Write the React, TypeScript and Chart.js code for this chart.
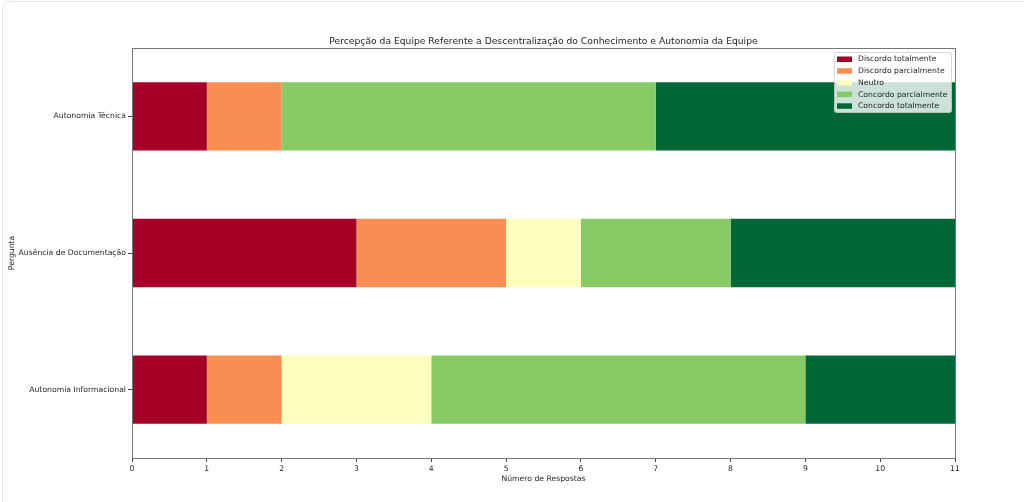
import React, { useEffect, useRef } from 'react';
import { Chart, registerables } from 'chart.js';

Chart.register(...registerables);

const categories = ['Autonomia Técnica', 'Ausência de Documentação', 'Autonomia Informacional'];
const seriesNames = [
  'Discordo totalmente',
  'Discordo parcialmente',
  'Neutro',
  'Concordo parcialmente',
  'Concordo totalmente',
];
const discordoTotalmente = [1, 3, 1];
const discordoParcialmente = [1, 2, 1];
const neutro = [0, 1, 2];
const concordoParcialmente = [5, 2, 5];
const concordoTotalmente = [4, 3, 2];
const xMax = 11;
const colors = ['#a50026', '#f98e52', '#feffbe', '#86cb66', '#006837'];

const chartTitle = 'Percepção da Equipe Referente a Descentralização do Conhecimento e Autonomia da Equipe';
const xTitle = 'Número de Respostas';
const yTitle = 'Pergunta';

const FONT = '"DejaVu Sans", sans-serif';
const SMALL = 7.7;

const decorPlugin = {
  id: 'decor',
  afterDraw(chart: Chart) {
    const { ctx, chartArea } = chart;
    const { left, right, top, bottom } = chartArea;
    ctx.save();

    // frame (spines)
    ctx.strokeStyle = '#777';
    ctx.lineWidth = 1;
    ctx.strokeRect(Math.round(left) + 0.5, Math.round(top) + 0.5, Math.round(right - left), Math.round(bottom - top));

    // title
    ctx.fillStyle = '#262626';
    ctx.font = `9.2px ${FONT}`;
    ctx.textAlign = 'center';
    ctx.textBaseline = 'alphabetic';
    ctx.fillText(chartTitle, (left + right) / 2, top - 4);

    // axis titles
    ctx.font = `${SMALL}px ${FONT}`;
    ctx.textBaseline = 'middle';
    ctx.fillText(xTitle, (left + right) / 2, 479);
    ctx.save();
    ctx.translate(12, (top + bottom) / 2);
    ctx.rotate(-Math.PI / 2);
    ctx.fillText(yTitle, 0, 0);
    ctx.restore();

    // legend inside the plot, upper right
    const bx = right - 121;
    const by = top + 4;
    const bw = 117;
    const bh = 60;
    ctx.beginPath();
    ctx.roundRect(bx + 0.5, by + 0.5, bw, bh, 2);
    ctx.fillStyle = 'rgba(255,255,255,0.8)';
    ctx.fill();
    ctx.strokeStyle = 'rgba(204,204,204,0.8)';
    ctx.stroke();
    ctx.font = `${SMALL}px ${FONT}`;
    ctx.textAlign = 'left';
    ctx.textBaseline = 'middle';
    seriesNames.forEach((name, i) => {
      const cy = by + 7.5 + i * 11.7;
      ctx.fillStyle = colors[i];
      ctx.fillRect(bx + 3, cy - 3, 15, 5.5);
      ctx.fillStyle = '#262626';
      ctx.fillText(name, bx + 24, cy);
    });

    ctx.restore();
  },
};

const App: React.FC = () => {
  const chartRef = useRef<HTMLCanvasElement>(null);
  const chartInstance = useRef<Chart | null>(null);

  useEffect(() => {
    document.body.style.margin = '0';
    if (chartRef.current) {
      const ctx = chartRef.current.getContext('2d');
      if (ctx) {
        if (chartInstance.current) {
          chartInstance.current.destroy();
        }
        const seriesValues = [
          discordoTotalmente,
          discordoParcialmente,
          neutro,
          concordoParcialmente,
          concordoTotalmente,
        ];
        chartInstance.current = new Chart(ctx, {
          type: 'bar',
          data: {
            labels: categories,
            datasets: seriesNames.map((name, i) => ({
              label: name,
              data: seriesValues[i],
              backgroundColor: colors[i],
              borderWidth: 0,
              categoryPercentage: 1,
              barPercentage: 0.5,
            })),
          },
          options: {
            indexAxis: 'y',
            animation: false,
            responsive: true,
            maintainAspectRatio: false,
            layout: { padding: { top: 48, right: 69, left: 0, bottom: 0 } },
            plugins: {
              legend: { display: false },
              title: { display: false },
              tooltip: { enabled: false },
            },
            scales: {
              x: {
                stacked: true,
                min: 0,
                max: xMax,
                ticks: {
                  stepSize: 1,
                  color: '#262626',
                  font: { family: FONT, size: SMALL },
                  padding: 2,
                  maxRotation: 0,
                },
                grid: {
                  drawOnChartArea: false,
                  tickLength: 4,
                  color: '#444',
                },
                border: { display: false },
                afterFit(scale: any) {
                  scale.height = 44;
                },
              },
              y: {
                stacked: true,
                ticks: {
                  color: '#262626',
                  font: { family: FONT, size: SMALL },
                  padding: 2,
                },
                grid: {
                  drawOnChartArea: false,
                  offset: false,
                  tickLength: 4,
                  color: '#444',
                },
                border: { display: false },
                afterFit(scale: any) {
                  scale.width = 132;
                },
              },
            },
          },
          plugins: [decorPlugin],
        });
      }
    }

    return () => {
      if (chartInstance.current) {
        chartInstance.current.destroy();
        chartInstance.current = null;
      }
    };
  }, []);

  return (
    <div style={{ position: 'fixed', left: 0, top: 0, width: 1024, height: 502, background: '#fff', overflow: 'hidden' }}>
      <div
        style={{
          position: 'absolute',
          left: 2,
          top: 1,
          width: 1100,
          height: 600,
          border: '1px solid #e3e6e8',
          borderRadius: 8,
          boxSizing: 'border-box',
        }}
      />
      <div style={{ position: 'absolute', left: 0, top: 0, width: 1024, height: 502 }}>
        <canvas ref={chartRef} />
      </div>
    </div>
  );
};

export default App;
